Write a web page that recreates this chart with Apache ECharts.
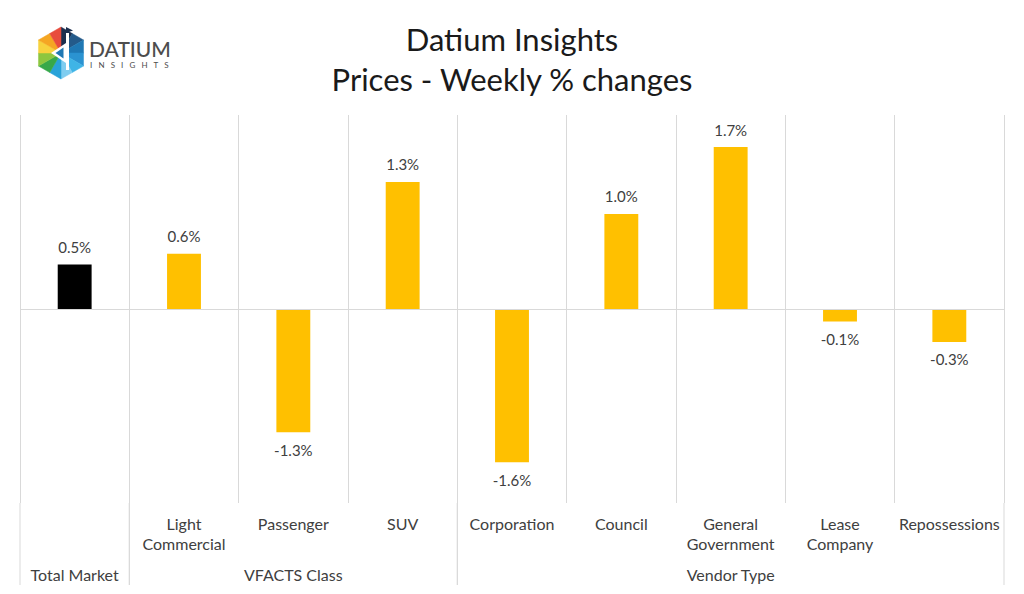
<!DOCTYPE html>
<html>
<head>
<meta charset="utf-8">
<script src="https://cdn.jsdelivr.net/npm/echarts@6/dist/echarts.min.js"></script>
<style>
html,body{margin:0;padding:0;background:#fff;}
#chart{width:1024px;height:594px;}
</style>
</head>
<body>
<div id="chart"></div>
<script>
// ---- data ----
const categories = ['Total Market', 'Light\nCommercial', 'Passenger', 'SUV', 'Corporation', 'Council', 'General\nGovernment', 'Lease\nCompany', 'Repossessions'];
const categoryLabels = ['', 'Light\nCommercial', 'Passenger', 'SUV', 'Corporation', 'Council', 'General\nGovernment', 'Lease\nCompany', 'Repossessions'];
const values = [0.46, 0.57, -1.27, 1.31, -1.58, 0.98, 1.67, -0.13, -0.34];
const groupNames = ['Total Market', 'VFACTS Class', 'Vendor Type'];
const groupStart = [0, 1, 4];
const groupEnd = [0, 3, 8];
const titleLines = ['Datium Insights', 'Prices - Weekly % changes'];

const FONT = 'Lato, "DejaVu Sans", sans-serif';
const GOLD = '#FFC000';
const GRIDC = '#d9d9d9';
const TXT = '#404040';

const chart = echarts.init(document.getElementById('chart'), null, {renderer: 'svg'});

// logo geometry
const cx = 61, cy = 53, R = 26;
function vert(i) { const a = (-90 + 60 * i) * Math.PI / 180; return [cx + R * Math.cos(a), cy + R * Math.sin(a)]; }
const triColors = ['#1c2f4f', '#245a8a', '#1f78b4', '#2b93d1', '#3fb4e6', '#7fcdf0', '#29a3d9', '#37a84a', '#8dc63f', '#f7d23e', '#f5a623', '#e84c3d'];
const logoEls = [];
for (let i = 0; i < 6; i++) {
  const a = vert(i), b = vert(i + 1);
  const m = [(a[0] + b[0]) / 2, (a[1] + b[1]) / 2];
  logoEls.push({type: 'polygon', shape: {points: [[cx, cy], a, m]}, style: {fill: triColors[2 * i], stroke: triColors[2 * i], lineWidth: 0.5}});
  logoEls.push({type: 'polygon', shape: {points: [[cx, cy], m, b]}, style: {fill: triColors[2 * i + 1], stroke: triColors[2 * i + 1], lineWidth: 0.5}});
}
logoEls.push({type: 'polygon', shape: {points: [[51, 53], [66, 43], [66, 63]]}, style: {fill: '#ffffff'}});
logoEls.push({type: 'polygon', shape: {points: [[55.5, 53], [63.5, 47.5], [63.5, 58.5]]}, style: {fill: '#1f78b4'}});
logoEls.push({type: 'rect', shape: {x: 66, y: 33, width: 3, height: 37}, style: {fill: '#ffffff'}});
logoEls.push({type: 'polygon', shape: {points: [[66, 27], [73, 30.5], [66, 33]]}, style: {fill: '#1c2f4f'}});
logoEls.push({type: 'text', x: 89, y: 48.5, style: {text: 'DATIUM', fill: '#4d4d4d', font: '500 21px ' + FONT, verticalAlign: 'middle', align: 'left'}});
logoEls.push({type: 'text', x: 90, y: 64.5, style: {text: 'I   N   S   I   G   H   T   S', fill: '#4d4d4d', font: '8px ' + FONT, verticalAlign: 'middle', align: 'left'}});

const option = {
  backgroundColor: '#ffffff',
  animation: false,
  title: {
    text: titleLines.join('\n'),
    left: 'center',
    top: 14,
    textStyle: {fontFamily: FONT, fontSize: 31, fontWeight: 'normal', color: '#1a1a1a', lineHeight: 40}
  },
  graphic: logoEls,
  grid: {left: 20, right: 20, top: 115, bottom: 91, containLabel: false},
  xAxis: {
    type: 'category',
    data: categories,
    position: 'bottom',
    axisLine: {show: false, onZero: false},
    axisTick: {show: false},
    splitLine: {show: true, interval: 0, lineStyle: {color: GRIDC, width: 1}},
    axisLabel: {
      interval: 0, margin: 10, color: TXT, fontFamily: FONT, fontSize: 16, lineHeight: 20,
      formatter: (v, i) => categoryLabels[i]
    }
  },
  yAxis: {
    type: 'value', min: -2, max: 2, interval: 1,
    show: false,
    splitLine: {show: false}
  },
  series: [
    {
      type: 'bar',
      data: values.map((v, i) => ({value: v, itemStyle: {color: i === 0 ? '#000000' : GOLD}, label: {position: v >= 0 ? 'top' : 'bottom'}})),
      barWidth: '31%',
      label: {show: true, distance: 10, color: TXT, fontFamily: FONT, fontSize: 15, formatter: p => p.value.toFixed(1) + '%'},
      markLine: {
        silent: true, symbol: 'none', label: {show: false},
        lineStyle: {color: GRIDC, width: 1, type: 'solid'},
        data: [{yAxis: 0}]
      },
      z: 3
    },
    {
      type: 'custom',
      silent: true,
      clip: false,
      data: groupNames.map((n, i) => [groupStart[i], groupEnd[i], i]),
      renderItem: (params, api) => {
        const s = api.value(0), e = api.value(1), gi = api.value(2);
        const band = api.size([1, 0])[0];
        const p0 = api.coord([s, -2]);
        const p1 = api.coord([e, -2]);
        const x0 = p0[0] - band / 2, x1 = p1[0] + band / 2, y0 = p0[1];
        const ext = 82;
        return {
          type: 'group',
          children: [
            {type: 'line', shape: {x1: x0, y1: y0, x2: x0, y2: y0 + ext}, style: {stroke: GRIDC, lineWidth: 1}},
            {type: 'line', shape: {x1: x1, y1: y0, x2: x1, y2: y0 + ext}, style: {stroke: GRIDC, lineWidth: 1}},
            {type: 'text', x: (x0 + x1) / 2, y: y0 + 71, style: {text: groupNames[gi], fill: TXT, font: '16px ' + FONT, align: 'center', verticalAlign: 'middle'}}
          ]
        };
      }
    }
  ]
};
chart.setOption(option);
</script>
</body>
</html>
